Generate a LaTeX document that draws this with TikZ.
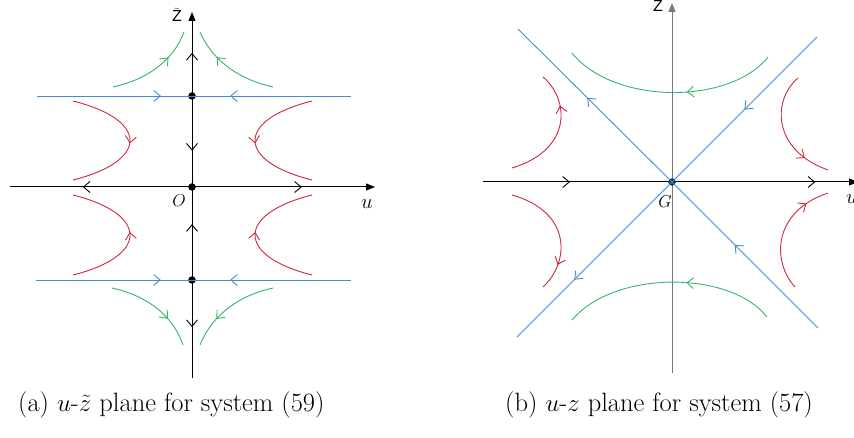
\documentclass[tikz,border=0pt]{standalone}
\usepackage{fontspec}
\newfontfamily\axfont{Liberation Sans}
\usetikzlibrary{arrows.meta,decorations.markings}
\definecolor{cblue}{RGB}{70,140,205}
\definecolor{cred}{RGB}{205,40,60}
\definecolor{cgreen}{RGB}{55,180,105}
\definecolor{cgrey}{RGB}{120,120,120}
\definecolor{cnavy}{RGB}{20,45,70}
\tikzset{
  vtip/.tip={Straight Barb[length=6.5pt,width=11pt,line width=0.9pt]},
  fwd/.style={postaction={decorate},decoration={markings,mark=at position #1 with {\arrow{vtip}}}},
  bwd/.style={postaction={decorate},decoration={markings,mark=at position #1 with {\arrowreversed{vtip}}}},
  axis/.style={line width=1pt,-{Triangle[length=9pt,width=7pt]}},
  traj/.style={line width=0.9pt},
  dotc/.style={circle,fill=black,inner sep=0pt,minimum size=7.5pt},
  lab/.style={inner sep=1pt,font=\fontsize{18}{20}\selectfont},
  captext/.style={inner sep=0pt,font=\fontsize{26.5}{30}\selectfont}
}
\begin{document}
\begin{tikzpicture}[x=1pt,y=-1pt]
\useasboundingbox (0,0) rectangle (854,438);
% ---------------- panel (a) ----------------
\coordinate (aL) at (10,187);
\coordinate (aR) at (375,187);
\coordinate (aB) at (192,378);
\coordinate (aT) at (192,12);
\node[dotc] (P1) at (192,96) {};
\node[dotc] (O) at (192,187) {};
\node[dotc] (P2) at (192,280) {};
% axes
\draw[axis] (aL) -- (aR);
\draw[axis] (aB) -- (aT);
% black flow arrows on axes
\draw[traj,draw=none,fwd=0.6] (O.center) -- (aL);
\draw[traj,draw=none,fwd=0.6] (O.center) -- (aR);
\draw[traj,draw=none,fwd=0.98] (P1.center) -- (192,52);
\draw[traj,draw=none,fwd=0.6] (P1.center) -- (O.center);
\draw[traj,draw=none,fwd=0.6] (P2.center) -- (O.center);
\draw[traj,draw=none,fwd=0.48] (P2.center) -- (aB);
% blue lines
\coordinate (b1L) at (37,96);
\coordinate (b1R) at (351,96);
\coordinate (b2L) at (36,280);
\coordinate (b2R) at (351,280);
\draw[traj,cblue,fwd=0.8] (b1L) -- (P1.center);
\draw[traj,cblue,fwd=0.76] (b1R) -- (P1.center);
\draw[traj,cblue,fwd=0.8] (b2L) -- (P2.center);
\draw[traj,cblue,fwd=0.76] (b2R) -- (P2.center);
% red curves
\draw[traj,cred,fwd=0.52] (73,101) .. controls (149,120) and (149,161) .. (73,180);
\draw[traj,cred,fwd=0.52] (312,101) .. controls (236,120) and (236,161) .. (312,180);
\draw[traj,cred,fwd=0.52] (73,275) .. controls (149,256) and (149,214) .. (73,195);
\draw[traj,cred,fwd=0.52] (312,275) .. controls (236,256) and (236,214) .. (312,195);
% green curves
\draw[traj,cgreen,fwd=0.68] (113,87) .. controls (145,80) and (173,62) .. (184,32);
\draw[traj,cgreen,fwd=0.68] (273,87) .. controls (241,80) and (213,62) .. (200,32);
\draw[traj,cgreen,fwd=0.68] (112,288) .. controls (144,295) and (172,313) .. (183,345);
\draw[traj,cgreen,fwd=0.68] (273,288) .. controls (241,295) and (213,313) .. (200,345);
% labels
\node[lab,font=\fontsize{16}{18}\selectfont] (lz) at (177,15) {$\widetilde{\mbox{\axfont Z}}$};
\node[lab] (lO) at (179,201) {$O$};
\node[lab,font=\fontsize{20}{22}\selectfont] (lu) at (367,204) {$u$};
% ---------------- panel (b) ----------------
\coordinate (bL) at (483,182);
\coordinate (bR) at (858,182);
\coordinate (bB) at (672,373);
\coordinate (bT) at (672,3);
\draw[axis,cgrey] (bB) -- (bT);
\draw[axis] (bL) -- (bR);
\draw[traj,draw=none,fwd=0.46] (bL) -- (672,182);
\draw[traj,draw=none,fwd=0.77] (672,182) -- (bR);
\node[circle,fill=cnavy,inner sep=0pt,minimum size=7.5pt] (G) at (672,182) {};
% blue separatrices
\coordinate (sUL) at (518,29);
\coordinate (sLR) at (818,328);
\coordinate (sUR) at (817,37);
\coordinate (sLL) at (517,337);
\draw[traj,cblue,fwd=0.55] (G.center) -- (sUL);
\draw[traj,cblue,bwd=0.43] (G.center) -- (sLR);
\draw[traj,cblue,bwd=0.5] (G.center) -- (sUR);
\draw[traj,cblue,fwd=0.63] (G.center) -- (sLL);
% green curves
\draw[traj,cgreen,fwd=0.42] (768,57) .. controls (730,105) and (614,105) .. (572,53);
\draw[traj,cgreen,fwd=0.42] (767,317) .. controls (730,270) and (614,270) .. (572,320);
% red curves
\draw[traj,cred,fwd=0.72] (512,168) .. controls (572,150) and (570,100) .. (543,77);
\draw[traj,cred,fwd=0.78] (798,78) .. controls (772,100) and (772,150) .. (828,170);
\draw[traj,cred,fwd=0.78] (512,195) .. controls (572,212) and (570,262) .. (543,287);
\draw[traj,cred,fwd=0.8] (795,287) .. controls (772,262) and (772,212) .. (828,193);
% labels
\node[lab,font=\fontsize{16}{18}\selectfont] (lz2) at (658,6) {\axfont Z};
\node[lab] (lG) at (665,202) {$G$};
\node[lab,font=\fontsize{20}{22}\selectfont] (lu2) at (852,199) {$u$};
% ---------------- captions ----------------
\node[captext,anchor=west] (capa) at (18,405) {(a) $u$-$\tilde{z}$ plane for system (59)};
\node[captext,anchor=west] (capb) at (505,405) {(b) $u$-$z$ plane for system (57)};
\end{tikzpicture}
\end{document}
